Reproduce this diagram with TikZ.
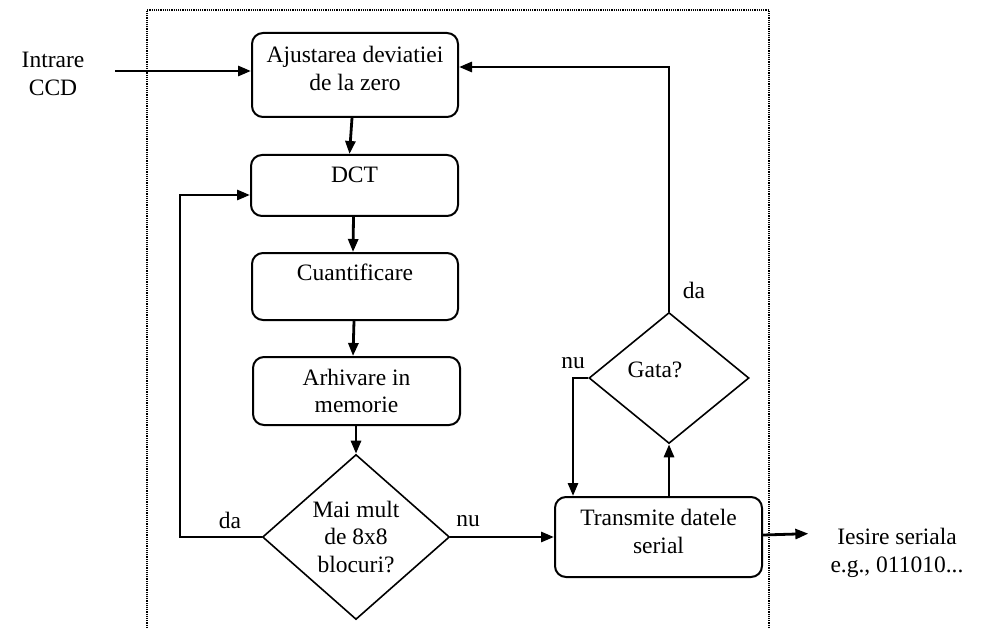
\documentclass[tikz,border=0pt]{standalone}
\usepackage{fontspec}
\setmainfont{Liberation Serif}
\usetikzlibrary{shapes.geometric,arrows.meta,calc}

\begin{document}
\begin{tikzpicture}[x=1pt,y=-1pt,
  every node/.style={font=\fontsize{23.5}{27.5}\selectfont, align=center, inner sep=0pt},
  procbox/.style={draw, line width=2pt, rounded corners=11pt},
  toptext/.style={text height=16pt, text depth=#1},
  decision/.style={draw, diamond, line width=1.6pt, inner sep=0pt},
  conn/.style={line width=2.8pt, -{Triangle[length=13pt,width=10pt]}},
  frame/.style={dash pattern=on 1.2pt off 1pt, line width=1.3pt}]

  \useasboundingbox (0,0) rectangle (981,628);

  % dotted outline around the processing unit
  \draw[frame] (147,628) |- (769,10) -- (769,628);

  % processing steps
  \node[procbox, minimum width=206pt, minimum height=84pt] (b1) at (355,75)
    {Ajustarea deviatiei\\de la zero\\[-14pt]\mbox{}};
  \node[procbox, toptext=21pt, minimum width=207pt, minimum height=61pt] (b2) at (354.5,185.5)
    {DCT};
  \node[procbox, toptext=29pt, minimum width=206pt, minimum height=67pt] (b3) at (355,286.5)
    {Cuantificare};
  \node[procbox, minimum width=207pt, minimum height=68pt] (b4) at (356.5,391)
    {Arhivare in\\memorie};
  \node[decision, minimum width=187pt, minimum height=165pt] (d1) at (356,537)
    {Mai mult\\de 8x8\\blocuri?};
  \node[procbox, minimum width=207pt, minimum height=80pt] (b5) at (658.5,537)
    {Transmite datele\\serial\\[-16pt]\mbox{}};
  \node[decision, minimum width=160pt, minimum height=131pt] (d2) at (669,378) {};
  \node (gq) at (655,370) {Gata?};

  % external input and output
  \node (in) at (53,74) {Intrare\\CCD};
  \node (out) at (897,553) {Iesire seriala\\e.g., 011010...};

  % branch labels
  \node (l1) at (230,520) {da};
  \node (l2) at (468,521) {nu};
  \node (l3) at (573,363) {nu};
  \node (l4) at (694,290) {da};

  % bend points of the loops
  \coordinate (lp) at (180,537);
  \coordinate (gn) at (573,378);

  % connectors
  \draw[conn] ($(b1.west)+(-136,-4)$) -- ($(b1.west)+(0,-4)$);
  \draw[conn] ($(b1.south)+(-3,0)$) -- ($(b2.north)+(-5,0)$);
  \draw[conn] ($(b2.south)+(-1,0)$) -- ($(b3.north)+(-2,0)$);
  \draw[conn] ($(b3.south)+(-1,0)$) -- ($(b4.north)+(-3.5,0)$);
  \draw[conn] (b4.south -| d1.north) -- (d1.north);
  \draw[conn] (d1.west) -- (lp) |- ($(b2.west)+(0,9.5)$);
  \draw[conn] (d1.east) -- (d1.east -| b5.west);
  \draw[conn] (d2.south |- b5.north) -- (d2.south);
  \draw[conn] (d2.west) -- (gn) -- (gn |- b5.north);
  \draw[conn] (d2.north) |- ($(b1.east)+(0,-8)$);
  \draw[conn, shorten >=22pt] ($(b5.east)+(0,-2)$) -- ($(b5.east -| out.west)+(0,-4)$);
\end{tikzpicture}
\end{document}
